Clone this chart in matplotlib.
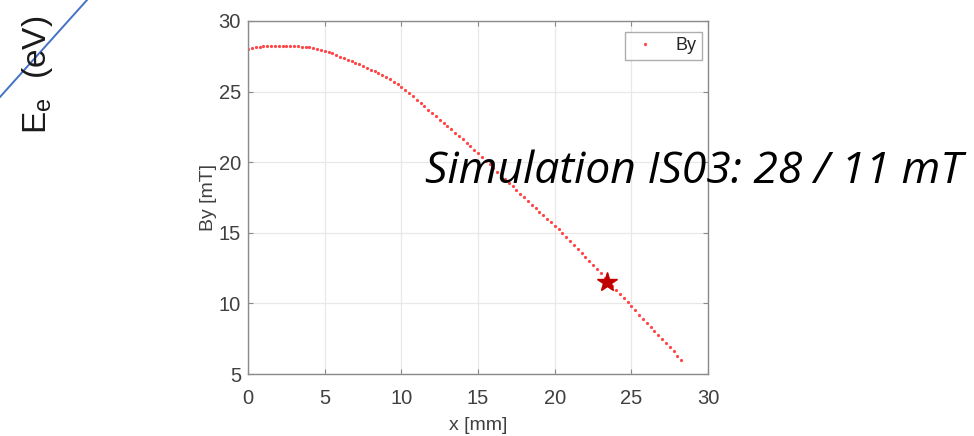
import matplotlib
matplotlib.use("Agg")
import matplotlib.pyplot as plt
import numpy as np
from matplotlib.lines import Line2D

# Field profile By(x) sampled every 0.25 mm
x_mm = np.arange(0.0, 28.25 + 0.001, 0.25)
by_mT = [
    28.00, 28.10, 28.15, 28.18, 28.20, 28.20, 28.20, 28.20, 28.20, 28.20,
    28.20, 28.20, 28.20, 28.20, 28.19, 28.17, 28.15, 28.10, 28.04, 27.97,
    27.90, 27.80, 27.70, 27.59, 27.48, 27.37, 27.26, 27.15, 27.04, 26.92,
    26.80, 26.68, 26.56, 26.43, 26.30, 26.16, 26.02, 25.87, 25.71, 25.54,
    25.36, 25.13, 24.90, 24.67, 24.43, 24.20, 23.96, 23.72, 23.48, 23.25,
    23.02, 22.79, 22.56, 22.33, 22.10, 21.86, 21.62, 21.38, 21.13, 20.88,
    20.62, 20.36, 20.10, 19.84, 19.58, 19.32, 19.06, 18.80, 18.54, 18.28,
    18.02, 17.76, 17.50, 17.25, 17.00, 16.75, 16.50, 16.25, 16.00, 15.75,
    15.50, 15.24, 14.98, 14.71, 14.44, 14.16, 13.88, 13.60, 13.31, 13.02,
    12.73, 12.43, 12.13, 11.83, 11.53, 11.24, 10.95, 10.66, 10.37, 10.08,
    9.79, 9.50, 9.21, 8.92, 8.63, 8.34, 8.05, 7.76, 7.47, 7.18,
    6.89, 6.60, 6.31, 6.02,
]
x_mm = x_mm[:len(by_mT)]

# Working point
star_x = 23.4
star_y = 11.5

x_ticks = [0, 5, 10, 15, 20, 25, 30]
y_ticks = [5, 10, 15, 20, 25, 30]

plt.rcParams["font.family"] = ["Liberation Sans", "DejaVu Sans"]

W, H = 974, 436
fig = plt.figure(figsize=(W / 100, H / 100), dpi=100)
fig.patch.set_facecolor("white")

ax = fig.add_axes([248 / W, 1 - 374 / H, (708 - 248) / W, (374 - 21) / H])

ax.plot(x_mm, by_mT, linestyle="none", marker="o", markersize=2.3,
        color="#ff4545", markeredgewidth=0, label="By")
ax.plot([star_x], [star_y], linestyle="none", marker="*", markersize=15,
        color="#c00000", markeredgecolor="#c00000")

ax.set_xlim(0, 30)
ax.set_ylim(5, 30)
ax.set_xticks(x_ticks)
ax.set_yticks(y_ticks)
ax.grid(True, color="#e8e8e8", linewidth=0.9)
ax.set_axisbelow(True)

tick_col = "#404040"
ax.tick_params(direction="in", length=3.5, width=0.8, color="#8a8a8a",
               labelsize=14.5, labelcolor=tick_col, top=True, right=True)
ax.tick_params(axis="x", pad=11)
ax.tick_params(axis="y", pad=5)
for s in ax.spines.values():
    s.set_color("#8a8a8a")
    s.set_linewidth(1.0)

ax.set_xlabel("x [mm]", fontsize=14, color=tick_col, labelpad=6)
ax.set_ylabel("By [mT]", fontsize=14, color=tick_col, labelpad=1)

leg = ax.legend(loc="upper right", bbox_to_anchor=(702 / W, 1 - 32 / H),
                bbox_transform=fig.transFigure, borderaxespad=0,
                fontsize=13, frameon=True, fancybox=False,
                handlelength=1.6, handletextpad=0.9, borderpad=0.3,
                markerscale=1.0)
leg.get_frame().set_edgecolor("#9a9a9a")
leg.get_frame().set_linewidth(1.0)
for t in leg.get_texts():
    t.set_color("#262626")

# Cut-off energy axis label on the far left
fig.text(20 / W, 1 - 134 / H, r"E$_\mathregular{e}$  (eV)", rotation=90,
         fontsize=24, ha="left", va="bottom", color="#1a1a1a")
fig.add_artist(Line2D([0, 87 / W], [1 - 97 / H, 1.0], transform=fig.transFigure,
                      color="#4472c4", linewidth=1.4))

# Annotation
ann = fig.text(425 / W, 1 - 183 / H, "Simulation IS03: 28 / 11 mT",
               fontsize=30, style="italic", family=["Open Sans", "DejaVu Sans"],
               ha="left", va="baseline", color="black")
fig.canvas.draw()
bb = ann.get_window_extent()
ann.set_fontsize(30 * (962 - 425) / bb.width)

fig.savefig("out.png", dpi=100, facecolor="white")
